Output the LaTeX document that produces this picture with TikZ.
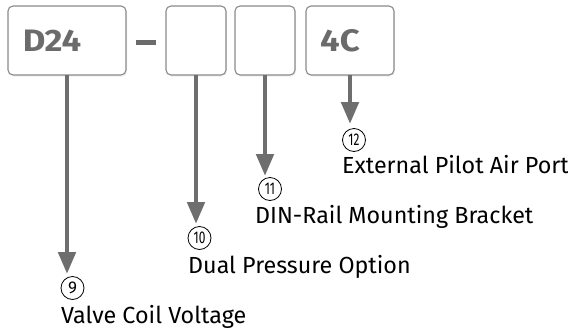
\documentclass[tikz,border=0pt]{standalone}
\usepackage{fontspec}
\setmainfont{Fira Sans}
\usetikzlibrary{arrows.meta,shadows}
\definecolor{boxline}{HTML}{8A8A8A}
\definecolor{codegray}{HTML}{6B6B6B}
\definecolor{arrgray}{HTML}{6E6E6E}
\tikzset{
  codebox/.style={draw=boxline, line width=1.1pt, rounded corners=5pt, fill=white,
    minimum height=69pt, inner sep=0pt,
    drop shadow={opacity=0.12, shadow xshift=1pt, shadow yshift=-1.5pt},
    font=\fontsize{31}{31}\bfseries\selectfont, text=codegray},
  pointer/.style={draw=arrgray, line width=4.8pt, -{Triangle[width=17pt,length=22pt]}, shorten <=-1pt},
  numlabel/.style={circle, draw=black, line width=0.8pt, minimum size=23pt, inner sep=0pt,
    font=\fontsize{17}{17}\selectfont},
  desc/.style={inner sep=0pt, anchor=base west, font=\fontsize{23.3}{23.3}\selectfont}
}
\newcommand{\narrownum}[1]{\scalebox{0.7}[1]{#1}}
\begin{document}
\begin{tikzpicture}[x=1pt,y=-1pt]
\useasboundingbox (0,0) rectangle (568,330);
\node[codebox, minimum width=118pt] (b1) at (67,40.5) {\hspace*{-30pt}\scalebox{1.12}[1]{D24}};
\node[draw=none, fill=codegray, minimum width=20pt, minimum height=5pt, inner sep=0pt] (dash) at (146,42) {};
\node[codebox, minimum width=60pt] (b2) at (196,40.5) {};
\node[codebox, minimum width=60pt] (b3) at (265,40.5) {};
\node[codebox, minimum width=88pt] (b4) at (350,40.5) {\hspace*{-20pt}\scalebox{1.12}[1]{4C}};
\coordinate (t9) at (67,274);
\coordinate (t10) at (196,224);
\coordinate (t11) at (265,176);
\coordinate (t12) at (350,124);
\draw[pointer] (b1.south) -- (t9);
\draw[pointer] (b2.south) -- (t10);
\draw[pointer] (b3.south) -- (t11);
\draw[pointer] (b4.south) -- (t12);
\node[numlabel] (n9) at (72.5,288) {9};
\node[numlabel] (n10) at (199.5,238) {\narrownum{10}};
\node[numlabel] (n11) at (270,189) {\narrownum{11}};
\node[numlabel] (n12) at (354,140) {\narrownum{12}};
\node[desc] (l9) at (61,323) {Valve Coil Voltage};
\node[desc] (l10) at (188,273) {Dual Pressure Option};
\node[desc] (l11) at (255,223) {DIN-Rail Mounting Bracket};
\node[desc] (l12) at (342,173) {External Pilot Air Port};
\end{tikzpicture}
\end{document}
